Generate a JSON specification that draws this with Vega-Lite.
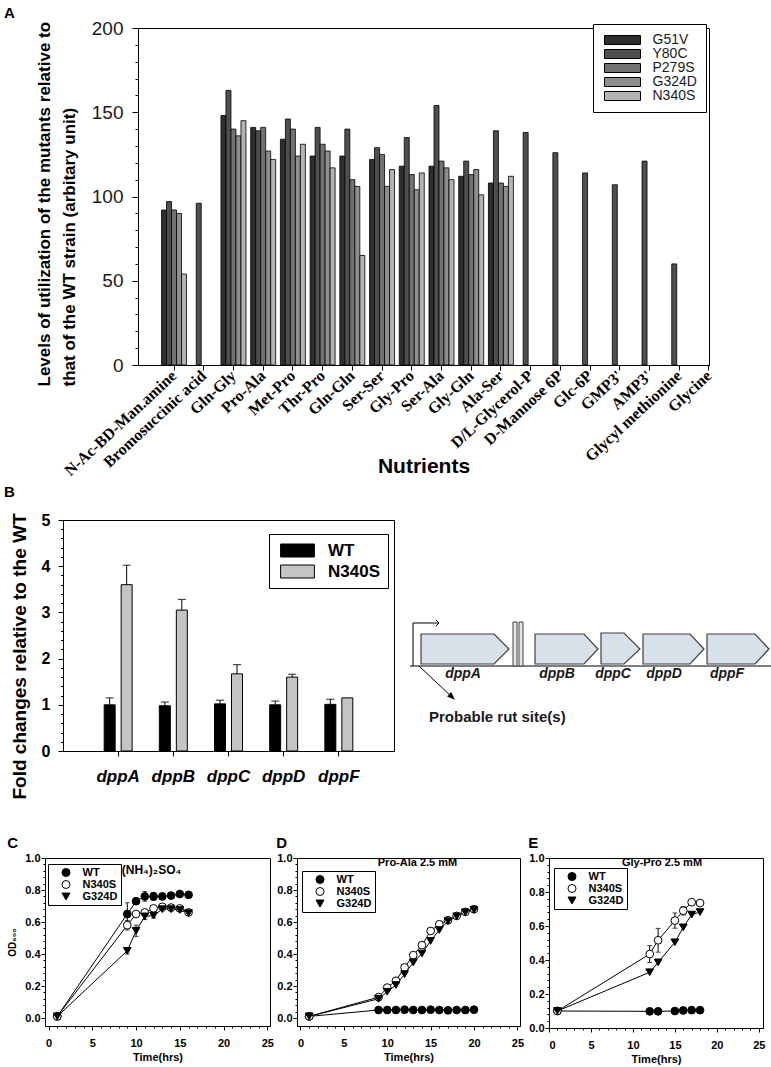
{
  "$schema": "https://vega.github.io/schema/vega-lite/v6.json",
  "background": "white",
  "padding": {"left": 2, "top": 5, "right": 0, "bottom": 0},
  "config": {
    "font": "Liberation Sans",
    "view": {"stroke": "black", "strokeWidth": 1},
    "axis": {"domainColor": "black", "tickColor": "black", "labelColor": "black", "titleColor": "black", "grid": false, "labelFont": "Liberation Sans", "titleFont": "Liberation Sans", "domainWidth": 1, "tickWidth": 1, "labelOverlap": false},
    "legend": {"labelFont": "Liberation Sans", "labelColor": "black"},
    "title": {"font": "Liberation Sans", "color": "black", "fontWeight": "bold"}
  },
  "datasets": {
    "nutrients": [
      {"nutrient": "N-Ac-BD-Man.amine", "mutant": "G51V", "level": 92},
      {"nutrient": "N-Ac-BD-Man.amine", "mutant": "Y80C", "level": 97},
      {"nutrient": "N-Ac-BD-Man.amine", "mutant": "P279S", "level": 92},
      {"nutrient": "N-Ac-BD-Man.amine", "mutant": "G324D", "level": 90},
      {"nutrient": "N-Ac-BD-Man.amine", "mutant": "N340S", "level": 54},
      {"nutrient": "Bromosuccinic acid", "mutant": "Y80C", "level": 96},
      {"nutrient": "Gln-Gly", "mutant": "G51V", "level": 148},
      {"nutrient": "Gln-Gly", "mutant": "Y80C", "level": 163},
      {"nutrient": "Gln-Gly", "mutant": "P279S", "level": 140},
      {"nutrient": "Gln-Gly", "mutant": "G324D", "level": 136},
      {"nutrient": "Gln-Gly", "mutant": "N340S", "level": 145},
      {"nutrient": "Pro-Ala", "mutant": "G51V", "level": 141},
      {"nutrient": "Pro-Ala", "mutant": "Y80C", "level": 139},
      {"nutrient": "Pro-Ala", "mutant": "P279S", "level": 141},
      {"nutrient": "Pro-Ala", "mutant": "G324D", "level": 127},
      {"nutrient": "Pro-Ala", "mutant": "N340S", "level": 122},
      {"nutrient": "Met-Pro", "mutant": "G51V", "level": 134},
      {"nutrient": "Met-Pro", "mutant": "Y80C", "level": 146},
      {"nutrient": "Met-Pro", "mutant": "P279S", "level": 140},
      {"nutrient": "Met-Pro", "mutant": "G324D", "level": 124},
      {"nutrient": "Met-Pro", "mutant": "N340S", "level": 131},
      {"nutrient": "Thr-Pro", "mutant": "G51V", "level": 124},
      {"nutrient": "Thr-Pro", "mutant": "Y80C", "level": 141},
      {"nutrient": "Thr-Pro", "mutant": "P279S", "level": 131},
      {"nutrient": "Thr-Pro", "mutant": "G324D", "level": 127},
      {"nutrient": "Thr-Pro", "mutant": "N340S", "level": 117},
      {"nutrient": "Gln-Gln", "mutant": "G51V", "level": 124},
      {"nutrient": "Gln-Gln", "mutant": "Y80C", "level": 140},
      {"nutrient": "Gln-Gln", "mutant": "P279S", "level": 110},
      {"nutrient": "Gln-Gln", "mutant": "G324D", "level": 106},
      {"nutrient": "Gln-Gln", "mutant": "N340S", "level": 65},
      {"nutrient": "Ser-Ser", "mutant": "G51V", "level": 122},
      {"nutrient": "Ser-Ser", "mutant": "Y80C", "level": 129},
      {"nutrient": "Ser-Ser", "mutant": "P279S", "level": 125},
      {"nutrient": "Ser-Ser", "mutant": "G324D", "level": 106},
      {"nutrient": "Ser-Ser", "mutant": "N340S", "level": 116},
      {"nutrient": "Gly-Pro", "mutant": "G51V", "level": 118},
      {"nutrient": "Gly-Pro", "mutant": "Y80C", "level": 135},
      {"nutrient": "Gly-Pro", "mutant": "P279S", "level": 113},
      {"nutrient": "Gly-Pro", "mutant": "G324D", "level": 104},
      {"nutrient": "Gly-Pro", "mutant": "N340S", "level": 114},
      {"nutrient": "Ser-Ala", "mutant": "G51V", "level": 118},
      {"nutrient": "Ser-Ala", "mutant": "Y80C", "level": 154},
      {"nutrient": "Ser-Ala", "mutant": "P279S", "level": 121},
      {"nutrient": "Ser-Ala", "mutant": "G324D", "level": 117},
      {"nutrient": "Ser-Ala", "mutant": "N340S", "level": 110},
      {"nutrient": "Gly-Gln", "mutant": "G51V", "level": 112},
      {"nutrient": "Gly-Gln", "mutant": "Y80C", "level": 121},
      {"nutrient": "Gly-Gln", "mutant": "P279S", "level": 113},
      {"nutrient": "Gly-Gln", "mutant": "G324D", "level": 116},
      {"nutrient": "Gly-Gln", "mutant": "N340S", "level": 101},
      {"nutrient": "Ala-Ser", "mutant": "G51V", "level": 108},
      {"nutrient": "Ala-Ser", "mutant": "Y80C", "level": 139},
      {"nutrient": "Ala-Ser", "mutant": "P279S", "level": 108},
      {"nutrient": "Ala-Ser", "mutant": "G324D", "level": 106},
      {"nutrient": "Ala-Ser", "mutant": "N340S", "level": 112},
      {"nutrient": "D/L-Glycerol-P", "mutant": "Y80C", "level": 138},
      {"nutrient": "D-Mannose 6P", "mutant": "Y80C", "level": 126},
      {"nutrient": "Glc-6P", "mutant": "Y80C", "level": 114},
      {"nutrient": "GMP3'", "mutant": "Y80C", "level": 107},
      {"nutrient": "AMP3'", "mutant": "Y80C", "level": 121},
      {"nutrient": "Glycyl methionine", "mutant": "Y80C", "level": 60}
    ],
    "dpp": [
      {"gene": "dppA", "sample": "WT", "fold": 1.0, "upper": 1.15},
      {"gene": "dppA", "sample": "N340S", "fold": 3.6, "upper": 4.02},
      {"gene": "dppB", "sample": "WT", "fold": 0.98, "upper": 1.06},
      {"gene": "dppB", "sample": "N340S", "fold": 3.05, "upper": 3.28},
      {"gene": "dppC", "sample": "WT", "fold": 1.02, "upper": 1.1},
      {"gene": "dppC", "sample": "N340S", "fold": 1.67, "upper": 1.87},
      {"gene": "dppD", "sample": "WT", "fold": 1.0, "upper": 1.08},
      {"gene": "dppD", "sample": "N340S", "fold": 1.6, "upper": 1.66},
      {"gene": "dppF", "sample": "WT", "fold": 1.01, "upper": 1.12},
      {"gene": "dppF", "sample": "N340S", "fold": 1.15, "upper": null}
    ],
    "growth": [
      {"medium": "NH4", "strain": "WT", "t": 1, "od": 0.01, "err": 0},
      {"medium": "NH4", "strain": "WT", "t": 9, "od": 0.65, "err": 0.07},
      {"medium": "NH4", "strain": "WT", "t": 10, "od": 0.73, "err": 0.015},
      {"medium": "NH4", "strain": "WT", "t": 11, "od": 0.76, "err": 0.03},
      {"medium": "NH4", "strain": "WT", "t": 12, "od": 0.76, "err": 0.025},
      {"medium": "NH4", "strain": "WT", "t": 13, "od": 0.76, "err": 0.01},
      {"medium": "NH4", "strain": "WT", "t": 14, "od": 0.765, "err": 0.01},
      {"medium": "NH4", "strain": "WT", "t": 15, "od": 0.775, "err": 0.01},
      {"medium": "NH4", "strain": "WT", "t": 16, "od": 0.77, "err": 0.01},
      {"medium": "NH4", "strain": "N340S", "t": 1, "od": 0.01, "err": 0},
      {"medium": "NH4", "strain": "N340S", "t": 9, "od": 0.58, "err": 0.03},
      {"medium": "NH4", "strain": "N340S", "t": 10, "od": 0.65, "err": 0.015},
      {"medium": "NH4", "strain": "N340S", "t": 11, "od": 0.66, "err": 0.01},
      {"medium": "NH4", "strain": "N340S", "t": 12, "od": 0.685, "err": 0.01},
      {"medium": "NH4", "strain": "N340S", "t": 13, "od": 0.695, "err": 0.01},
      {"medium": "NH4", "strain": "N340S", "t": 14, "od": 0.69, "err": 0.01},
      {"medium": "NH4", "strain": "N340S", "t": 15, "od": 0.685, "err": 0.01},
      {"medium": "NH4", "strain": "N340S", "t": 16, "od": 0.66, "err": 0.01},
      {"medium": "NH4", "strain": "G324D", "t": 1, "od": 0.01, "err": 0},
      {"medium": "NH4", "strain": "G324D", "t": 9, "od": 0.42, "err": 0.02},
      {"medium": "NH4", "strain": "G324D", "t": 10, "od": 0.545, "err": 0.035},
      {"medium": "NH4", "strain": "G324D", "t": 11, "od": 0.635, "err": 0.02},
      {"medium": "NH4", "strain": "G324D", "t": 12, "od": 0.64, "err": 0.015},
      {"medium": "NH4", "strain": "G324D", "t": 13, "od": 0.68, "err": 0.01},
      {"medium": "NH4", "strain": "G324D", "t": 14, "od": 0.68, "err": 0.01},
      {"medium": "NH4", "strain": "G324D", "t": 15, "od": 0.675, "err": 0.01},
      {"medium": "NH4", "strain": "G324D", "t": 16, "od": 0.655, "err": 0.01},
      {"medium": "ProAla", "strain": "WT", "t": 1, "od": 0.01, "err": 0},
      {"medium": "ProAla", "strain": "WT", "t": 9, "od": 0.05, "err": 0},
      {"medium": "ProAla", "strain": "WT", "t": 10, "od": 0.05, "err": 0},
      {"medium": "ProAla", "strain": "WT", "t": 11, "od": 0.05, "err": 0},
      {"medium": "ProAla", "strain": "WT", "t": 12, "od": 0.052, "err": 0},
      {"medium": "ProAla", "strain": "WT", "t": 13, "od": 0.05, "err": 0},
      {"medium": "ProAla", "strain": "WT", "t": 14, "od": 0.05, "err": 0},
      {"medium": "ProAla", "strain": "WT", "t": 15, "od": 0.052, "err": 0},
      {"medium": "ProAla", "strain": "WT", "t": 16, "od": 0.05, "err": 0},
      {"medium": "ProAla", "strain": "WT", "t": 17, "od": 0.048, "err": 0},
      {"medium": "ProAla", "strain": "WT", "t": 18, "od": 0.05, "err": 0},
      {"medium": "ProAla", "strain": "WT", "t": 19, "od": 0.05, "err": 0},
      {"medium": "ProAla", "strain": "WT", "t": 20, "od": 0.052, "err": 0},
      {"medium": "ProAla", "strain": "N340S", "t": 1, "od": 0.01, "err": 0},
      {"medium": "ProAla", "strain": "N340S", "t": 9, "od": 0.13, "err": 0},
      {"medium": "ProAla", "strain": "N340S", "t": 10, "od": 0.19, "err": 0},
      {"medium": "ProAla", "strain": "N340S", "t": 11, "od": 0.233, "err": 0},
      {"medium": "ProAla", "strain": "N340S", "t": 12, "od": 0.316, "err": 0},
      {"medium": "ProAla", "strain": "N340S", "t": 13, "od": 0.393, "err": 0},
      {"medium": "ProAla", "strain": "N340S", "t": 14, "od": 0.455, "err": 0},
      {"medium": "ProAla", "strain": "N340S", "t": 15, "od": 0.544, "err": 0},
      {"medium": "ProAla", "strain": "N340S", "t": 16, "od": 0.586, "err": 0},
      {"medium": "ProAla", "strain": "N340S", "t": 17, "od": 0.611, "err": 0},
      {"medium": "ProAla", "strain": "N340S", "t": 18, "od": 0.638, "err": 0},
      {"medium": "ProAla", "strain": "N340S", "t": 19, "od": 0.663, "err": 0},
      {"medium": "ProAla", "strain": "N340S", "t": 20, "od": 0.68, "err": 0},
      {"medium": "ProAla", "strain": "G324D", "t": 1, "od": 0.01, "err": 0},
      {"medium": "ProAla", "strain": "G324D", "t": 9, "od": 0.12, "err": 0},
      {"medium": "ProAla", "strain": "G324D", "t": 10, "od": 0.164, "err": 0},
      {"medium": "ProAla", "strain": "G324D", "t": 11, "od": 0.206, "err": 0},
      {"medium": "ProAla", "strain": "G324D", "t": 12, "od": 0.274, "err": 0},
      {"medium": "ProAla", "strain": "G324D", "t": 13, "od": 0.347, "err": 0},
      {"medium": "ProAla", "strain": "G324D", "t": 14, "od": 0.403, "err": 0},
      {"medium": "ProAla", "strain": "G324D", "t": 15, "od": 0.482, "err": 0},
      {"medium": "ProAla", "strain": "G324D", "t": 16, "od": 0.55, "err": 0},
      {"medium": "ProAla", "strain": "G324D", "t": 17, "od": 0.605, "err": 0},
      {"medium": "ProAla", "strain": "G324D", "t": 18, "od": 0.635, "err": 0},
      {"medium": "ProAla", "strain": "G324D", "t": 19, "od": 0.66, "err": 0},
      {"medium": "ProAla", "strain": "G324D", "t": 20, "od": 0.675, "err": 0},
      {"medium": "GlyPro", "strain": "WT", "t": 1, "od": 0.1, "err": 0},
      {"medium": "GlyPro", "strain": "WT", "t": 12, "od": 0.098, "err": 0},
      {"medium": "GlyPro", "strain": "WT", "t": 13, "od": 0.098, "err": 0},
      {"medium": "GlyPro", "strain": "WT", "t": 15, "od": 0.1, "err": 0},
      {"medium": "GlyPro", "strain": "WT", "t": 16, "od": 0.103, "err": 0},
      {"medium": "GlyPro", "strain": "WT", "t": 17, "od": 0.105, "err": 0},
      {"medium": "GlyPro", "strain": "WT", "t": 18, "od": 0.105, "err": 0},
      {"medium": "GlyPro", "strain": "N340S", "t": 1, "od": 0.1, "err": 0},
      {"medium": "GlyPro", "strain": "N340S", "t": 12, "od": 0.435, "err": 0.05},
      {"medium": "GlyPro", "strain": "N340S", "t": 13, "od": 0.516, "err": 0.07},
      {"medium": "GlyPro", "strain": "N340S", "t": 15, "od": 0.632, "err": 0.045},
      {"medium": "GlyPro", "strain": "N340S", "t": 16, "od": 0.69, "err": 0.025},
      {"medium": "GlyPro", "strain": "N340S", "t": 17, "od": 0.74, "err": 0},
      {"medium": "GlyPro", "strain": "N340S", "t": 18, "od": 0.735, "err": 0},
      {"medium": "GlyPro", "strain": "G324D", "t": 1, "od": 0.1, "err": 0},
      {"medium": "GlyPro", "strain": "G324D", "t": 12, "od": 0.328, "err": 0},
      {"medium": "GlyPro", "strain": "G324D", "t": 13, "od": 0.386, "err": 0},
      {"medium": "GlyPro", "strain": "G324D", "t": 15, "od": 0.504, "err": 0},
      {"medium": "GlyPro", "strain": "G324D", "t": 16, "od": 0.592, "err": 0},
      {"medium": "GlyPro", "strain": "G324D", "t": 17, "od": 0.667, "err": 0},
      {"medium": "GlyPro", "strain": "G324D", "t": 18, "od": 0.682, "err": 0}
    ],
    "operon": [
      {"gene": "dppA", "pos": 14, "lo": 2, "hi": 32},
      {"gene": "dppA", "pos": 87, "lo": 2, "hi": 32},
      {"gene": "dppA", "pos": 102, "lo": 17, "hi": 17},
      {"gene": "dppB", "pos": 128, "lo": 2, "hi": 32},
      {"gene": "dppB", "pos": 177, "lo": 2, "hi": 32},
      {"gene": "dppB", "pos": 191, "lo": 17, "hi": 17},
      {"gene": "dppC", "pos": 194, "lo": 2, "hi": 33},
      {"gene": "dppC", "pos": 217, "lo": 2, "hi": 33},
      {"gene": "dppC", "pos": 233, "lo": 17, "hi": 17},
      {"gene": "dppD", "pos": 236, "lo": 2, "hi": 32},
      {"gene": "dppD", "pos": 283, "lo": 2, "hi": 32},
      {"gene": "dppD", "pos": 297, "lo": 17, "hi": 17},
      {"gene": "dppF", "pos": 300, "lo": 2, "hi": 32},
      {"gene": "dppF", "pos": 348, "lo": 2, "hi": 32},
      {"gene": "dppF", "pos": 362, "lo": 17, "hi": 17}
    ],
    "rut": [
      {"site": 1, "pos": 106, "pos2": 110, "lo": 0, "hi": 44},
      {"site": 2, "pos": 112, "pos2": 116, "lo": 0, "hi": 44}
    ],
    "geneLabels": [
      {"gene": "dppA", "pos": 56, "lo": -8},
      {"gene": "dppB", "pos": 150, "lo": -8},
      {"gene": "dppC", "pos": 206, "lo": -8},
      {"gene": "dppD", "pos": 257, "lo": -8},
      {"gene": "dppF", "pos": 320, "lo": -8}
    ],
    "arrows": [
      {"arrow": "promoter", "step": 1, "pos": 6, "lo": 0},
      {"arrow": "promoter", "step": 2, "pos": 6, "lo": 43},
      {"arrow": "promoter", "step": 3, "pos": 32, "lo": 43},
      {"arrow": "rut", "step": 1, "pos": 12, "lo": 0},
      {"arrow": "rut", "step": 2, "pos": 45, "lo": -31}
    ],
    "blank": [{"note": ""}]
  },
  "resolve": {"scale": {"fill": "independent", "shape": "independent", "stroke": "independent", "xOffset": "independent"}, "legend": {"fill": "independent", "shape": "independent", "stroke": "independent"}},
  "spacing": 35,
  "vconcat": [
    {
      "resolve": {"scale": {"fill": "independent", "shape": "independent", "stroke": "independent", "xOffset": "independent"}, "legend": {"fill": "independent", "shape": "independent", "stroke": "independent"}},
      "spacing": 4,
      "vconcat": [
        {
          "resolve": {"scale": {"fill": "independent", "shape": "independent", "stroke": "independent", "xOffset": "independent"}, "legend": {"fill": "independent", "shape": "independent", "stroke": "independent"}},
          "spacing": 0,
          "hconcat": [
            {"width": 1, "height": 1, "view": {"stroke": null}, "data": {"name": "blank"}, "mark": {"type": "text"}, "encoding": {"text": {"field": "note"}}},
            {
              "width": 571,
              "height": 337,
              "title": {"text": "A", "anchor": "start", "frame": "group", "dx": -134, "offset": -2, "fontSize": 15},
              "data": {"name": "nutrients"},
              "mark": {"type": "bar", "stroke": "black", "strokeWidth": 0.8},
              "encoding": {
                "x": {
                  "field": "nutrient", "type": "nominal", "sort": null,
                  "scale": {"domain": ["N-Ac-BD-Man.amine", "Bromosuccinic acid", "Gln-Gly", "Pro-Ala", "Met-Pro", "Thr-Pro", "Gln-Gln", "Ser-Ser", "Gly-Pro", "Ser-Ala", "Gly-Gln", "Ala-Ser", "D/L-Glycerol-P", "D-Mannose 6P", "Glc-6P", "GMP3'", "AMP3'", "Glycyl methionine", "Glycine"], "paddingInner": 0.999, "paddingOuter": 0.606, "align": 1},
                  "axis": {"title": "Nutrients", "labelAngle": -43, "labelAlign": "right", "labelBaseline": "middle", "labelFont": "Liberation Serif", "labelFontWeight": "bold", "labelFontSize": 16, "labelPadding": 3, "tickSize": 5, "labelLimit": 300, "titleFontSize": 21, "titleFontWeight": "bold", "titleBaseline": "middle", "titleY": 101}
                },
                "xOffset": {"field": "mutant", "type": "nominal", "scale": {"domain": ["G51V", "Y80C", "P279S", "G324D", "N340S"], "range": [-12.5, 12.5], "paddingInner": 0, "paddingOuter": 0}},
                "y": {
                  "field": "level", "type": "quantitative",
                  "scale": {"domain": [0, 200]},
                  "axis": {"values": [0, 10, 20, 30, 40, 50, 60, 70, 80, 90, 100, 110, 120, 130, 140, 150, 160, 170, 180, 190, 200], "labelExpr": "datum.value % 50 === 0 ? datum.label : ''", "tickSize": {"condition": {"test": "datum.value % 50 === 0", "value": 6}, "value": 3}, "labelFontSize": 19, "labelColor": "#1a1a1a", "labelPadding": 9, "title": ["Levels of utilization of the mutants relative to", "that of the WT strain (arbitary unit)"], "titleFontSize": 17, "titleFontWeight": "bold", "titleAngle": -90, "titleAlign": "left", "titleBaseline": "top", "titleX": -102, "titleY": 358, "titleLineHeight": 25}
                },
                "fill": {
                  "field": "mutant", "type": "nominal",
                  "scale": {"domain": ["G51V", "Y80C", "P279S", "G324D", "N340S"], "range": ["#2e2e2e", "#4f4f4f", "#727272", "#8e8e8e", "#b3b3b3"]},
                  "legend": {"title": null, "orient": "none", "legendX": 455, "legendY": -4, "padding": 9, "strokeColor": "black", "fillColor": "white", "symbolType": "M-4,-1H4V1H-4Z", "symbolSize": 81, "symbolStrokeColor": "black", "symbolStrokeWidth": 1, "symbolOffset": 13.5, "labelOffset": 23, "labelFontSize": 14, "labelColor": "#1a1a1a", "rowPadding": -1}
                }
              }
            }
          ]
        },
        {
          "resolve": {"scale": {"fill": "independent", "shape": "independent", "stroke": "independent", "xOffset": "independent"}, "legend": {"fill": "independent", "shape": "independent", "stroke": "independent"}},
          "spacing": 0,
          "hconcat": [
            {"width": 1, "height": 1, "view": {"stroke": null}, "data": {"name": "blank"}, "mark": {"type": "text"}, "encoding": {"text": {"field": "note"}}},
            {
              "resolve": {"scale": {"fill": "independent", "shape": "independent", "stroke": "independent", "xOffset": "independent"}, "legend": {"fill": "independent", "shape": "independent", "stroke": "independent"}},
              "spacing": 12,
              "hconcat": [
                {
                  "width": 331,
                  "height": 231,
                  "title": {"text": "B", "anchor": "start", "frame": "group", "dx": -59, "offset": 12, "fontSize": 15},
                  "data": {"name": "dpp"},
                  "encoding": {
                    "x": {"field": "gene", "type": "nominal", "sort": null, "scale": {"paddingInner": 0.493, "paddingOuter": 0.7465}, "axis": {"title": null, "labelAngle": 0, "labelFontSize": 17, "labelFontWeight": "bold", "labelFontStyle": "italic", "labelPadding": 12, "tickSize": 5}},
                    "xOffset": {"field": "sample", "type": "nominal", "sort": ["WT", "N340S"], "scale": {"domain": ["WT", "N340S"], "paddingInner": 0.353, "paddingOuter": 0}},
                    "y": {"field": "fold", "type": "quantitative", "scale": {"domain": [0, 5]}, "axis": {"title": "Fold changes relative to the WT", "values": [0, 0.2, 0.4, 0.6, 0.8, 1, 1.2, 1.4, 1.6, 1.8, 2, 2.2, 2.4, 2.6, 2.8, 3, 3.2, 3.4, 3.6, 3.8, 4, 4.2, 4.4, 4.6, 4.8, 5], "labelExpr": "datum.value % 1 === 0 ? format(datum.value, 'd') : ''", "tickSize": {"condition": {"test": "datum.value % 1 === 0", "value": 5}, "value": 2.5}, "labelFontSize": 16, "labelFontWeight": "bold", "labelPadding": 8, "titleFontSize": 19, "titleFontWeight": "bold", "titleAngle": -90, "titleAlign": "center", "titleBaseline": "middle", "titleX": -44, "titleY": 136}}
                  },
                  "layer": [
                    {
                      "mark": {"type": "bar", "stroke": "black", "strokeWidth": 1},
                      "encoding": {
                        "fill": {"field": "sample", "type": "nominal", "scale": {"domain": ["WT", "N340S"], "range": ["black", "#c4c4c4"]}, "legend": {"title": null, "orient": "none", "legendX": 206, "legendY": 14, "padding": 8, "strokeColor": "black", "fillColor": "white", "symbolType": "M-2.6,-1H2.6V1H-2.6Z", "symbolSize": 169, "symbolStrokeColor": "black", "symbolStrokeWidth": 1, "symbolOffset": 12, "labelOffset": 22, "labelFontSize": 17, "labelFontWeight": "bold", "rowPadding": 3}}
                      }
                    },
                    {
                      "transform": [{"filter": "isValid(datum.upper)"}],
                      "mark": {"type": "rule", "color": "black", "strokeWidth": 1},
                      "encoding": {"y2": {"field": "upper"}}
                    },
                    {
                      "transform": [{"filter": "isValid(datum.upper)"}],
                      "mark": {"type": "tick", "color": "black", "size": 8, "thickness": 1.2},
                      "encoding": {"y": {"field": "upper", "type": "quantitative", "scale": {"domain": [0, 5]}, "axis": {"title": "Fold changes relative to the WT", "values": [0, 0.2, 0.4, 0.6, 0.8, 1, 1.2, 1.4, 1.6, 1.8, 2, 2.2, 2.4, 2.6, 2.8, 3, 3.2, 3.4, 3.6, 3.8, 4, 4.2, 4.4, 4.6, 4.8, 5], "labelExpr": "datum.value % 1 === 0 ? format(datum.value, 'd') : ''", "tickSize": {"condition": {"test": "datum.value % 1 === 0", "value": 5}, "value": 2.5}, "labelFontSize": 16, "labelFontWeight": "bold", "labelPadding": 8, "titleFontSize": 19, "titleFontWeight": "bold", "titleAngle": -90, "titleAlign": "center", "titleBaseline": "middle", "titleX": -44, "titleY": 136}}}
                    }
                  ]
                },
                {
                  "width": 366,
                  "height": 231,
                  "view": {"stroke": null},
                  "encoding": {
                    "x": {"field": "pos", "type": "quantitative", "scale": {"domain": [0, 366], "nice": false, "zero": false}, "axis": null},
                    "y": {"field": "lo", "type": "quantitative", "scale": {"domain": [-85, 146], "nice": false, "zero": false}, "axis": null}
                  },
                  "layer": [
                    {
                      "data": {"values": [{"pos": 3, "pos2": 366, "lo": 0}]},
                      "mark": {"type": "rule", "color": "#555555", "strokeWidth": 1.5},
                      "encoding": {"x2": {"field": "pos2"}}
                    },
                    {
                      "data": {"name": "operon"},
                      "mark": {"type": "area", "fill": "#d8e0ea", "stroke": "#404040", "strokeWidth": 1.2, "fillOpacity": 1},
                      "encoding": {"y2": {"field": "hi"}, "detail": {"field": "gene"}}
                    },
                    {
                      "data": {"name": "rut"},
                      "mark": {"type": "rect", "fill": "#e6e6e6", "stroke": "#404040", "strokeWidth": 1},
                      "encoding": {"x2": {"field": "pos2"}, "y2": {"field": "hi"}}
                    },
                    {
                      "data": {"name": "arrows"},
                      "mark": {"type": "line", "color": "black", "strokeWidth": 1},
                      "encoding": {"detail": {"field": "arrow"}, "order": {"field": "step"}}
                    },
                    {
                      "data": {"name": "arrows"},
                      "transform": [{"filter": "datum.arrow === 'promoter' && datum.step === 3"}],
                      "mark": {"type": "point", "shape": "M-1,-1L0,0L-1,1", "filled": false, "color": "black", "strokeWidth": 1, "size": 40, "opacity": 1},
                      "encoding": {}
                    },
                    {
                      "data": {"name": "arrows"},
                      "transform": [{"filter": "datum.arrow === 'rut' && datum.step === 2"}],
                      "mark": {"type": "point", "shape": "M1,0L-1,-0.8L-1,0.8Z", "filled": true, "color": "black", "size": 60, "angle": 43, "opacity": 1},
                      "encoding": {}
                    },
                    {
                      "data": {"name": "geneLabels"},
                      "mark": {"type": "text", "fontSize": 14, "fontWeight": "bold", "fontStyle": "italic", "color": "#1a1a1a", "baseline": "middle"},
                      "encoding": {"text": {"field": "gene"}}
                    },
                    {
                      "data": {"values": [{"note": "Probable rut site(s)", "pos": 22, "lo": -51}]},
                      "mark": {"type": "text", "fontSize": 15, "fontWeight": "bold", "align": "left", "baseline": "middle", "color": "#1a1a1a"},
                      "encoding": {"text": {"field": "note"}}
                    }
                  ]
                }
              ]
            }
          ]
        }
      ]
    },
    {
      "resolve": {"scale": {"fill": "independent", "shape": "independent", "stroke": "independent", "xOffset": "independent"}, "legend": {"fill": "independent", "shape": "independent", "stroke": "independent"}},
      "spacing": 0,
      "hconcat": [
        {"width": 5, "height": 1, "view": {"stroke": null}, "data": {"name": "blank"}, "mark": {"type": "text"}, "encoding": {"text": {"field": "note"}}},
        {
          "resolve": {"scale": {"fill": "independent", "shape": "independent", "stroke": "independent", "xOffset": "independent"}, "legend": {"fill": "independent", "shape": "independent", "stroke": "independent"}},
          "spacing": 2,
          "hconcat": [
            {
              "title": {"text": "C", "anchor": "start", "offset": 1, "fontSize": 15},
              "resolve": {"scale": {"fill": "independent", "shape": "independent", "stroke": "independent", "xOffset": "independent"}, "legend": {"fill": "independent", "shape": "independent", "stroke": "independent"}},
              "vconcat": [
                {
                  "width": 225,
                  "height": 168,
                  "title": {"text": "(NH₄)₂SO₄", "anchor": "middle", "dx": -6, "offset": -25, "fontSize": 12},
                  "data": {"name": "growth"},
                  "transform": [{"filter": "datum.medium === 'NH4'"}],
                  "encoding": {
                    "x": {"field": "t", "type": "quantitative", "scale": {"domain": [-0.4, 25.3], "nice": false, "zero": false}, "axis": {"title": "Time(hrs)", "values": [0, 1, 2, 3, 4, 5, 6, 7, 8, 9, 10, 11, 12, 13, 14, 15, 16, 17, 18, 19, 20, 21, 22, 23, 24, 25], "labelExpr": "datum.value % 5 === 0 ? datum.label : ''", "tickSize": {"condition": {"test": "datum.value % 5 === 0", "value": 4}, "value": 2}, "labelFontSize": 11, "labelFontWeight": "bold", "labelPadding": 7, "titleFontSize": 11, "titleFontWeight": "bold", "titlePadding": 3}},
                    "y": {"field": "od", "type": "quantitative", "scale": {"domain": [-0.05, 1.0], "nice": false, "zero": false}, "axis": {"title": "OD₆₀₀", "values": [0, 0.04, 0.08, 0.12, 0.16, 0.2, 0.24, 0.28, 0.32, 0.36, 0.4, 0.44, 0.48, 0.52, 0.56, 0.6, 0.64, 0.68, 0.72, 0.76, 0.8, 0.84, 0.88, 0.92, 0.96, 1.0], "labelExpr": "abs(datum.value * 5 - round(datum.value * 5)) < 0.001 ? format(datum.value, '.1f') : ''", "tickSize": {"condition": {"test": "abs(datum.value * 5 - round(datum.value * 5)) < 0.001", "value": 4}, "value": 2}, "labelFontSize": 11, "labelFontWeight": "bold", "labelPadding": 1, "titleFontSize": 10, "titleFontWeight": "bold", "titlePadding": 7}}
                  },
                  "layer": [
                    {"mark": {"type": "line", "color": "black", "strokeWidth": 1}, "encoding": {"detail": {"field": "strain"}}},
                    {"transform": [{"filter": "datum.err > 0"}], "mark": {"type": "errorbar", "ticks": true, "color": "black"}, "encoding": {"yError": {"field": "err"}, "detail": {"field": "strain"}}},
                    {
                      "mark": {"type": "point", "filled": true, "strokeWidth": 1, "size": 60, "opacity": 1},
                      "encoding": {
                        "fill": {"field": "strain", "type": "nominal", "scale": {"domain": ["WT", "N340S", "G324D"], "range": ["black", "white", "black"]}, "legend": {"title": null, "orient": "none", "legendX": 3, "legendY": 6, "padding": 3, "strokeColor": "black", "fillColor": "white", "symbolSize": 64, "symbolOffset": 9.5, "labelOffset": 11, "labelFontSize": 11, "labelFontWeight": "bold", "rowPadding": -2, "symbolStrokeWidth": 1}},
                        "shape": {"field": "strain", "type": "nominal", "scale": {"domain": ["WT", "N340S", "G324D"], "range": ["circle", "circle", "triangle-down"]}, "legend": {"title": null, "orient": "none", "legendX": 3, "legendY": 6, "padding": 3, "strokeColor": "black", "fillColor": "white", "symbolSize": 64, "symbolOffset": 9.5, "labelOffset": 11, "labelFontSize": 11, "labelFontWeight": "bold", "rowPadding": -2, "symbolStrokeWidth": 1}},
                        "stroke": {"field": "strain", "type": "nominal", "scale": {"domain": ["WT", "N340S", "G324D"], "range": ["black", "black", "black"]}, "legend": {"title": null, "orient": "none", "legendX": 3, "legendY": 6, "padding": 3, "strokeColor": "black", "fillColor": "white", "symbolSize": 64, "symbolOffset": 9.5, "labelOffset": 11, "labelFontSize": 11, "labelFontWeight": "bold", "rowPadding": -2, "symbolStrokeWidth": 1}}
                      }
                    }
                  ]
                }
              ]
            },
            {
              "resolve": {"scale": {"fill": "independent", "shape": "independent", "stroke": "independent", "xOffset": "independent"}, "legend": {"fill": "independent", "shape": "independent", "stroke": "independent"}},
              "spacing": 3,
              "hconcat": [
                {
                  "title": {"text": "D", "anchor": "start", "offset": 1, "fontSize": 15},
                  "resolve": {"scale": {"fill": "independent", "shape": "independent", "stroke": "independent", "xOffset": "independent"}, "legend": {"fill": "independent", "shape": "independent", "stroke": "independent"}},
                  "vconcat": [
                    {
                      "width": 223,
                      "height": 168,
                      "title": {"text": "Pro-Ala 2.5 mM", "anchor": "middle", "dx": 9, "offset": -16, "fontSize": 11},
                      "data": {"name": "growth"},
                      "transform": [{"filter": "datum.medium === 'ProAla'"}],
                      "encoding": {
                        "x": {"field": "t", "type": "quantitative", "scale": {"domain": [-0.4, 25.3], "nice": false, "zero": false}, "axis": {"title": "Time(hrs)", "values": [0, 1, 2, 3, 4, 5, 6, 7, 8, 9, 10, 11, 12, 13, 14, 15, 16, 17, 18, 19, 20, 21, 22, 23, 24, 25], "labelExpr": "datum.value % 5 === 0 ? datum.label : ''", "tickSize": {"condition": {"test": "datum.value % 5 === 0", "value": 4}, "value": 2}, "labelFontSize": 11, "labelFontWeight": "bold", "labelPadding": 7, "titleFontSize": 11, "titleFontWeight": "bold", "titlePadding": 3}},
                        "y": {"field": "od", "type": "quantitative", "scale": {"domain": [-0.05, 1.0], "nice": false, "zero": false}, "axis": {"title": null, "values": [0, 0.04, 0.08, 0.12, 0.16, 0.2, 0.24, 0.28, 0.32, 0.36, 0.4, 0.44, 0.48, 0.52, 0.56, 0.6, 0.64, 0.68, 0.72, 0.76, 0.8, 0.84, 0.88, 0.92, 0.96, 1.0], "labelExpr": "abs(datum.value * 5 - round(datum.value * 5)) < 0.001 ? format(datum.value, '.1f') : ''", "tickSize": {"condition": {"test": "abs(datum.value * 5 - round(datum.value * 5)) < 0.001", "value": 4}, "value": 2}, "labelFontSize": 11, "labelFontWeight": "bold", "labelPadding": 1}}
                      },
                      "layer": [
                        {"mark": {"type": "line", "color": "black", "strokeWidth": 1}, "encoding": {"detail": {"field": "strain"}}},
                        {
                          "mark": {"type": "point", "filled": true, "strokeWidth": 1, "size": 60, "opacity": 1},
                          "encoding": {
                            "fill": {"field": "strain", "type": "nominal", "scale": {"domain": ["WT", "N340S", "G324D"], "range": ["black", "white", "black"]}, "legend": {"title": null, "orient": "none", "legendX": 5, "legendY": 13, "padding": 3, "strokeColor": "black", "fillColor": "white", "symbolSize": 64, "symbolOffset": 9.5, "labelOffset": 11, "labelFontSize": 11, "labelFontWeight": "bold", "rowPadding": -2, "symbolStrokeWidth": 1}},
                            "shape": {"field": "strain", "type": "nominal", "scale": {"domain": ["WT", "N340S", "G324D"], "range": ["circle", "circle", "triangle-down"]}, "legend": {"title": null, "orient": "none", "legendX": 5, "legendY": 13, "padding": 3, "strokeColor": "black", "fillColor": "white", "symbolSize": 64, "symbolOffset": 9.5, "labelOffset": 11, "labelFontSize": 11, "labelFontWeight": "bold", "rowPadding": -2, "symbolStrokeWidth": 1}},
                            "stroke": {"field": "strain", "type": "nominal", "scale": {"domain": ["WT", "N340S", "G324D"], "range": ["black", "black", "black"]}, "legend": {"title": null, "orient": "none", "legendX": 5, "legendY": 13, "padding": 3, "strokeColor": "black", "fillColor": "white", "symbolSize": 64, "symbolOffset": 9.5, "labelOffset": 11, "labelFontSize": 11, "labelFontWeight": "bold", "rowPadding": -2, "symbolStrokeWidth": 1}}
                          }
                        }
                      ]
                    }
                  ]
                },
                {
                  "title": {"text": "E", "anchor": "start", "offset": 1, "fontSize": 15},
                  "resolve": {"scale": {"fill": "independent", "shape": "independent", "stroke": "independent", "xOffset": "independent"}, "legend": {"fill": "independent", "shape": "independent", "stroke": "independent"}},
                  "vconcat": [
                    {
                      "width": 214,
                      "height": 170,
                      "title": {"text": "Gly-Pro 2.5 mM", "anchor": "middle", "dx": 6, "offset": -16, "fontSize": 11},
                      "data": {"name": "growth"},
                      "transform": [{"filter": "datum.medium === 'GlyPro'"}],
                      "encoding": {
                        "x": {"field": "t", "type": "quantitative", "scale": {"domain": [0, 25.5], "nice": false, "zero": false}, "axis": {"title": "Time(hrs)", "values": [0, 1, 2, 3, 4, 5, 6, 7, 8, 9, 10, 11, 12, 13, 14, 15, 16, 17, 18, 19, 20, 21, 22, 23, 24, 25], "labelExpr": "datum.value % 5 === 0 ? datum.label : ''", "tickSize": {"condition": {"test": "datum.value % 5 === 0", "value": 4}, "value": 2}, "labelFontSize": 11, "labelFontWeight": "bold", "labelPadding": 7, "titleFontSize": 11, "titleFontWeight": "bold", "titlePadding": 3}},
                        "y": {"field": "od", "type": "quantitative", "scale": {"domain": [0, 1.0], "nice": false, "zero": false}, "axis": {"title": null, "values": [0, 0.04, 0.08, 0.12, 0.16, 0.2, 0.24, 0.28, 0.32, 0.36, 0.4, 0.44, 0.48, 0.52, 0.56, 0.6, 0.64, 0.68, 0.72, 0.76, 0.8, 0.84, 0.88, 0.92, 0.96, 1.0], "labelExpr": "abs(datum.value * 5 - round(datum.value * 5)) < 0.001 ? format(datum.value, '.1f') : ''", "tickSize": {"condition": {"test": "abs(datum.value * 5 - round(datum.value * 5)) < 0.001", "value": 4}, "value": 2}, "labelFontSize": 11, "labelFontWeight": "bold", "labelPadding": 1}}
                      },
                      "layer": [
                        {"mark": {"type": "line", "color": "black", "strokeWidth": 1}, "encoding": {"detail": {"field": "strain"}}},
                        {"transform": [{"filter": "datum.err > 0"}], "mark": {"type": "errorbar", "ticks": true, "color": "black"}, "encoding": {"yError": {"field": "err"}, "detail": {"field": "strain"}}},
                        {
                          "mark": {"type": "point", "filled": true, "strokeWidth": 1, "size": 60, "opacity": 1},
                          "encoding": {
                            "fill": {"field": "strain", "type": "nominal", "scale": {"domain": ["WT", "N340S", "G324D"], "range": ["black", "white", "black"]}, "legend": {"title": null, "orient": "none", "legendX": 5, "legendY": 10, "padding": 3, "strokeColor": "black", "fillColor": "white", "symbolSize": 64, "symbolOffset": 9.5, "labelOffset": 11, "labelFontSize": 11, "labelFontWeight": "bold", "rowPadding": -2, "symbolStrokeWidth": 1}},
                            "shape": {"field": "strain", "type": "nominal", "scale": {"domain": ["WT", "N340S", "G324D"], "range": ["circle", "circle", "triangle-down"]}, "legend": {"title": null, "orient": "none", "legendX": 5, "legendY": 10, "padding": 3, "strokeColor": "black", "fillColor": "white", "symbolSize": 64, "symbolOffset": 9.5, "labelOffset": 11, "labelFontSize": 11, "labelFontWeight": "bold", "rowPadding": -2, "symbolStrokeWidth": 1}},
                            "stroke": {"field": "strain", "type": "nominal", "scale": {"domain": ["WT", "N340S", "G324D"], "range": ["black", "black", "black"]}, "legend": {"title": null, "orient": "none", "legendX": 5, "legendY": 10, "padding": 3, "strokeColor": "black", "fillColor": "white", "symbolSize": 64, "symbolOffset": 9.5, "labelOffset": 11, "labelFontSize": 11, "labelFontWeight": "bold", "rowPadding": -2, "symbolStrokeWidth": 1}}
                          }
                        }
                      ]
                    }
                  ]
                }
              ]
            }
          ]
        }
      ]
    }
  ]
}
